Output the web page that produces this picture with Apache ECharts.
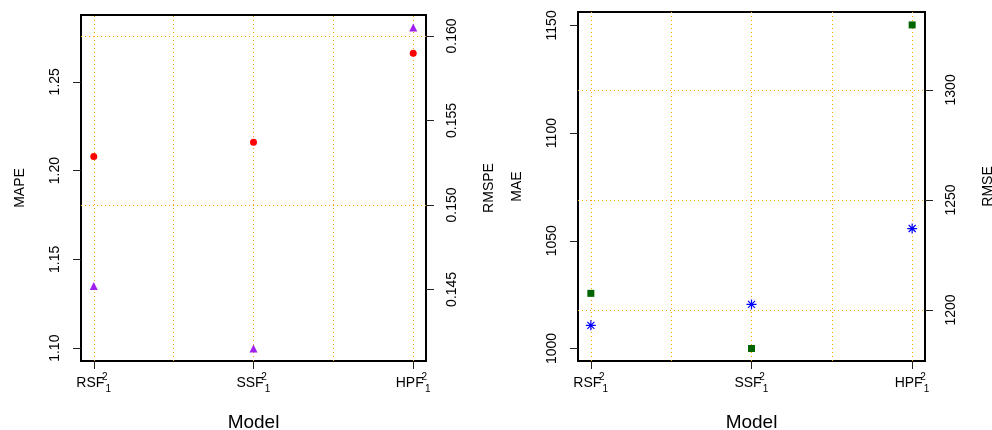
<!DOCTYPE html>
<html>
<head>
<meta charset="utf-8">
<style>
  html, body { margin: 0; padding: 0; background: #fff; }
  #chart { width: 992px; height: 430px; }
</style>
<script src="https://cdn.jsdelivr.net/npm/echarts@6/dist/echarts.min.js"></script>
</head>
<body>
<div id="chart"></div>
<script>
// models on the x axis (positions 1..3), each label is NAME with ^2 and _1
const models = ['RSF', 'SSF', 'HPF'];
const modelX = [1, 2, 3];

// left panel: MAPE (left axis) / RMSPE (right axis)
const mape = [1.208, 1.216, 1.266];
const rmspe = [0.1452, 0.1415, 0.1605];
// right panel: MAE (left axis) / RMSE (right axis)
const mae = [1025.6, 1000, 1150.2];
const rmse = [1193, 1202.5, 1237];

const gridX = [1, 1.5, 2, 2.5, 3];
const mapeTicks = [1.10, 1.15, 1.20, 1.25];
const rmspeTicks = [0.145, 0.150, 0.155, 0.160];
const maeTicks = [1000, 1050, 1100, 1150];
const rmseTicks = [1200, 1250, 1300];

const FONT = '"Liberation Sans", Arial, sans-serif';
const dotted = { color: '#FFA500', type: [1, 3], width: 1, opacity: 1 };
const asterisk = 'path://M5,0L5,10M0,5L10,5M1.5,1.5L8.5,8.5M1.5,8.5L8.5,1.5';

const chart = echarts.init(document.getElementById('chart'));

function xAxis(gridIndex) {
  return {
    type: 'value', gridIndex, min: 0.92, max: 3.08,
    name: 'Model', nameLocation: 'middle', nameGap: 52,
    nameTextStyle: { fontFamily: FONT, fontSize: 19, color: '#000' },
    axisLine: { show: false },
    splitLine: { show: false },
    axisTick: { customValues: modelX, length: 8, lineStyle: { color: '#222' } },
    axisLabel: {
      customValues: modelX, margin: 11,
      formatter: (v) => `{m|${models[Math.round(v) - 1]}}{sup|2}{sub|1}`,
      rich: {
        m: { fontFamily: FONT, fontSize: 14, color: '#000', lineHeight: 22, verticalAlign: 'middle' },
        sup: { fontFamily: FONT, fontSize: 10, color: '#000', lineHeight: 10, width: 1, align: 'left', verticalAlign: 'top' },
        sub: { fontFamily: FONT, fontSize: 10, color: '#000', lineHeight: 10, width: 6, align: 'left', verticalAlign: 'bottom' },
      },
    },
  };
}

function yAxis(gridIndex, position, name, min, max, ticks, digits) {
  return {
    type: 'value', gridIndex, position, min, max,
    name, nameLocation: 'middle', nameRotate: 90, nameGap: position === 'left' ? 54 : 56,
    nameTextStyle: { fontFamily: FONT, fontSize: 14, color: '#000' },
    axisLine: { show: false },
    splitLine: { show: false },
    axisTick: { show: true, customValues: ticks, length: 8, lineStyle: { color: '#222' } },
    axisLabel: {
      customValues: ticks, rotate: 90, margin: 19,
      fontFamily: FONT, fontSize: 14, color: '#000',
      formatter: (v) => v.toFixed(digits),
    },
  };
}

const pts = (ys) => modelX.map((x, i) => [x, ys[i]]);
const vLines = { silent: true, z: 1, symbol: ['none', 'none'], label: { show: false }, lineStyle: dotted,
  emphasis: { disabled: true }, data: gridX.map((v) => ({ xAxis: v })) };
const hLines = (ticks) => ({ silent: true, z: 1, symbol: ['none', 'none'], label: { show: false }, lineStyle: dotted,
  emphasis: { disabled: true }, data: ticks.map((v) => ({ yAxis: v })) });

chart.setOption({
  animation: false,
  backgroundColor: '#fff',
  grid: [
    { left: 81, right: 566, top: 15, bottom: 69, outerBoundsMode: 'none', containLabel: false,
      show: true, borderColor: '#000', borderWidth: 2 },
    { left: 578, right: 67, top: 12, bottom: 69, outerBoundsMode: 'none', containLabel: false,
      show: true, borderColor: '#000', borderWidth: 2 },
  ],
  xAxis: [xAxis(0), xAxis(1)],
  yAxis: [
    yAxis(0, 'left', 'MAPE', 1.0928, 1.2876, mapeTicks, 2),
    yAxis(0, 'right', 'RMSPE', 0.14076, 0.16124, rmspeTicks, 3),
    yAxis(1, 'left', 'MAE', 994.2, 1156.2, maeTicks, 0),
    yAxis(1, 'right', 'RMSE', 1176.8, 1335.4, rmseTicks, 0),
  ],
  series: [
    { type: 'scatter', xAxisIndex: 0, yAxisIndex: 0, data: pts(mape), symbol: 'circle', symbolSize: 7,
      itemStyle: { color: '#FF0000', opacity: 1 }, markLine: vLines, z: 3 },
    { type: 'scatter', xAxisIndex: 0, yAxisIndex: 1, data: pts(rmspe), symbol: 'triangle', symbolSize: 8,
      itemStyle: { color: '#A020F0', opacity: 1 }, markLine: hLines(rmspeTicks), z: 3 },
    { type: 'scatter', xAxisIndex: 1, yAxisIndex: 2, data: pts(mae), symbol: 'rect', symbolSize: 7,
      itemStyle: { color: '#006400', opacity: 1 }, markLine: vLines, z: 3 },
    { type: 'scatter', xAxisIndex: 1, yAxisIndex: 3, data: pts(rmse), symbol: asterisk, symbolSize: 10,
      itemStyle: { color: 'transparent', borderColor: '#0000FF', borderWidth: 1.2, opacity: 1 },
      markLine: hLines(rmseTicks), z: 3 },
  ],
});
</script>
</body>
</html>
